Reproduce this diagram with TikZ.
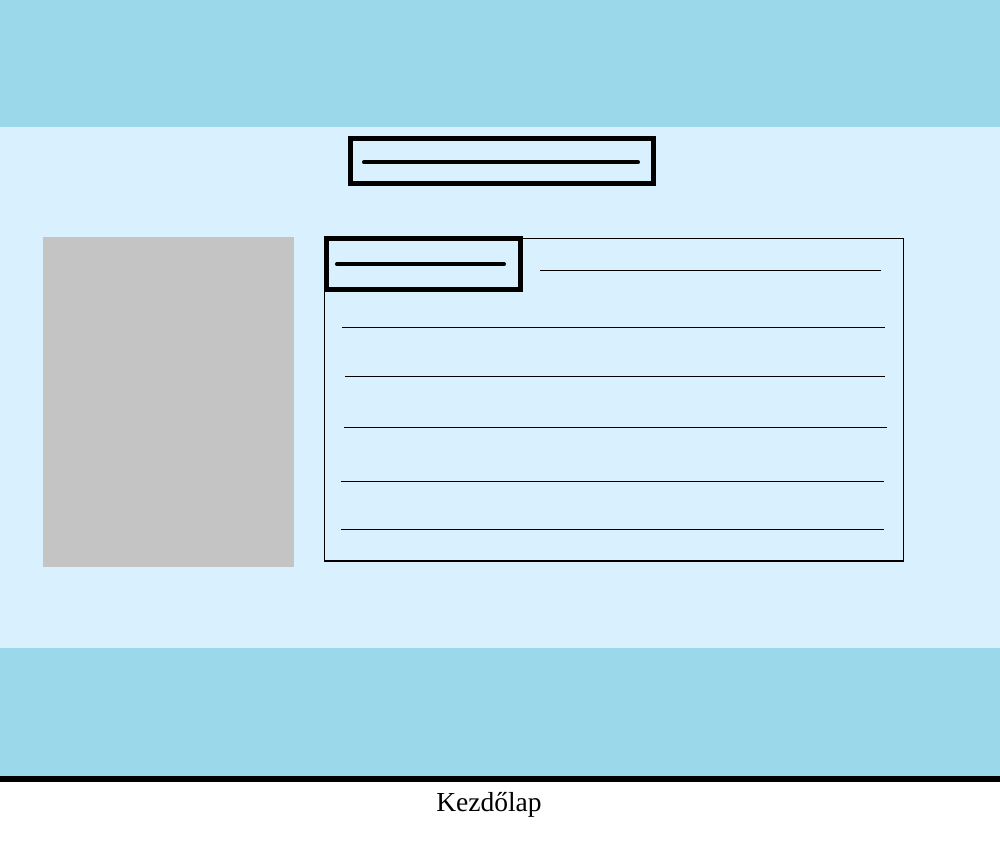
\documentclass[tikz,border=0pt]{standalone}
\usepackage{fontspec}
\setmainfont{Liberation Serif}
\definecolor{band}{HTML}{9BD9EA}
\definecolor{page}{HTML}{D9F0FF}
\definecolor{imggray}{HTML}{C4C4C4}
\tikzset{
  thickbox/.style={draw=black, line width=5pt},
  thickline/.style={draw=black, line width=4pt, line cap=round},
  thinline/.style={draw=black, line width=1.2pt},
}
\begin{document}
\begin{tikzpicture}[x=1pt,y=-1pt]
\useasboundingbox (0,0) rectangle (1000,840);
\fill[white] (0,0) rectangle (1000,840);
% bands
\fill[band] (0,0) rectangle (1000,127);
\fill[page] (0,127) rectangle (1000,648);
\fill[band] (0,648) rectangle (1000,776);
\fill[black] (0,776) rectangle (1000,782);
% title box
\draw[thickbox] (350,138.5) rectangle (653,183.5);
\coordinate (t1) at (364,162.3);
\coordinate (t2) at (638,162.3);
\draw[thickline] (t1) -- (t2);
% image placeholder
\fill[imggray] (43,237) rectangle (294,567);
% container
\draw[thinline] (324.5,238.5) rectangle (903.5,561);
% heading box
\draw[thickbox] (326,238.5) rectangle (520.5,289.8);
\coordinate (h1) at (337,264.3);
\coordinate (h2) at (504,264.3);
\draw[thickline] (h1) -- (h2);
% text lines
\coordinate (a1) at (540,270.3); \coordinate (a2) at (881,270.3);
\coordinate (b1) at (342,327.3); \coordinate (b2) at (885,327.3);
\coordinate (c1) at (345,376.3); \coordinate (c2) at (885,376.3);
\coordinate (d1) at (344,427.5); \coordinate (d2) at (887,427.5);
\coordinate (e1) at (341,481.3); \coordinate (e2) at (884,481.3);
\coordinate (f1) at (341,529.3); \coordinate (f2) at (884,529.3);
\draw[thinline] (a1) -- (a2);
\draw[thinline] (b1) -- (b2);
\draw[thinline] (c1) -- (c2);
\draw[thinline] (d1) -- (d2);
\draw[thinline] (e1) -- (e2);
\draw[thinline] (f1) -- (f2);
% caption
\node[anchor=base, inner sep=0pt, font=\fontsize{27.5}{30}\selectfont] (cap) at (489,811.7) {Kezdőlap};
\end{tikzpicture}
\end{document}
